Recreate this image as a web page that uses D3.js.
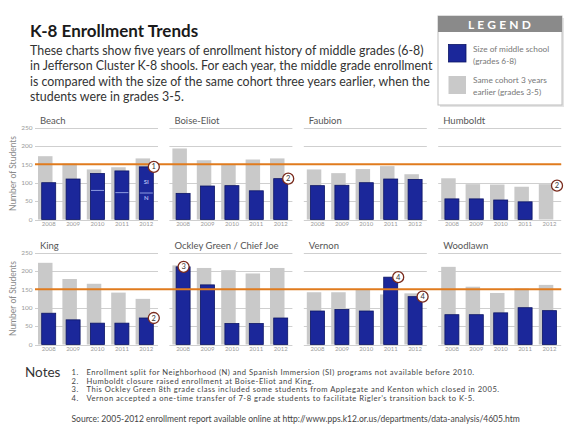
<!DOCTYPE html>
<meta charset="utf-8">
<style>
body { margin: 0; background: #fff; }
text { font-family: Lato, "Open Sans", sans-serif; }
.grid line { stroke: #cfcfcf; stroke-width: 1; }
.year { fill: #9a9a9a; font-size: 6px; }
.tick-label { fill: #9a9a9a; font-size: 6.5px; }
.panel-title { fill: #555; font-size: 9.5px; }
.cohort { fill: #c9c9c9; }
.middle { fill: #1b279a; stroke: #0c1565; stroke-width: 0.8; }
.note { fill: #444; font-size: 7.6px; letter-spacing: 0.5px; }
</style>
<svg width="580" height="435"></svg>
<script src="https://cdn.jsdelivr.net/npm/d3@7"></script>
<script>

var schools = ["Beach", "Boise-Eliot", "Faubion", "Humboldt",
               "King", "Ockley Green / Chief Joe", "Vernon", "Woodlawn"];
var years = ["2008", "2009", "2010", "2011", "2012"];

// middle school size (grades 6-8), one row per school
var middleSize = [
  [100, 110, 125, 132, 143],   // Beach
  [71, 91, 92, 78, 111],       // Boise-Eliot
  [92, 93, 100, 110, 109],     // Faubion
  [56, 56, 53, 48, 0],         // Humboldt
  [85, 67, 58, 58, 72],        // King
  [211, 162, 57, 57, 72],      // Ockley Green
  [91, 95, 91, 183, 130],      // Vernon
  [81, 81, 86, 100, 92]        // Woodlawn
];

// same cohort three years earlier (grades 3-5)
var cohortSize = [
  [172, 152, 136, 142, 166],
  [193, 161, 148, 163, 166],
  [136, 126, 137, 145, 123],
  [112, 96, 95, 89, 96],
  [222, 178, 165, 141, 124],
  [215, 208, 202, 193, 208],
  [142, 142, 148, 136, 139],
  [211, 157, 140, 152, 162]
];

var yTicks = [0, 50, 100, 150, 200, 250];
var targetSize = 150;

// Beach neighborhood / Spanish immersion split
var splitYears = ["2010", "2011", "2012"];
var splitN = [79, 73, 72];

var calloutSchool = ["Beach", "Boise-Eliot", "Humboldt", "King", "Ockley Green / Chief Joe", "Vernon", "Vernon"];
var calloutYear = ["2012", "2012", "2012", "2012", "2008", "2011", "2012"];
var calloutNum = ["1", "2", "2", "2", "3", "4", "4"];

var notes = [
  "Enrollment split for Neighborhood (N) and Spanish Immersion (SI) programs not available before 2010.",
  "Humboldt closure raised enrollment at Boise-Eliot and King.",
  "This Ockley Green 8th grade class included some students from Applegate and Kenton which closed in 2005.",
  "Vernon accepted a one-time transfer of 7-8 grade students to facilitate Rigler\u2019s transition back to K-5."
];

var svg = d3.select("svg");

// ---- header text
svg.append("text")
    .attr("x", 30).attr("y", 37)
    .style("font-size", "17px").style("font-weight", "bold").style("fill", "#1a1a1a")
    .text("K-8 Enrollment Trends");

var intro = [
  "These charts show five years of enrollment history of middle grades (6-8)",
  "in Jefferson Cluster K-8 shools. For each year, the middle grade enrollment",
  "is compared with the size of the same cohort three years earlier, when the",
  "students were in grades 3-5."
];
svg.selectAll(".intro")
  .data(intro)
  .enter().append("text")
    .attr("class", "intro")
    .attr("x", 30)
    .attr("y", function(d, i) { return 55 + i * 15.3; })
    .style("font-size", "12.4px").style("fill", "#333")
    .text(function(d) { return d; });

// ---- legend
var lg = svg.append("g");
lg.append("rect").attr("x", 440).attr("y", 18).attr("width", 124).attr("height", 89).attr("fill", "#e4e4e4");
lg.append("rect").attr("x", 438).attr("y", 16).attr("width", 124).attr("height", 89)
    .attr("fill", "#fff").attr("stroke", "#bdbdbd");
lg.append("rect").attr("x", 438).attr("y", 16).attr("width", 124).attr("height", 16).attr("fill", "#8a8a8a");
lg.append("text").attr("x", 501).attr("y", 29).attr("text-anchor", "middle")
    .style("font-size", "12px").style("font-weight", "bold").style("fill", "#fff")
    .style("letter-spacing", "3.2px")
    .text("LEGEND");
lg.append("rect").attr("class", "middle").attr("x", 448.5).attr("y", 44.5).attr("width", 17.5).attr("height", 17.5);
lg.append("rect").attr("class", "cohort").attr("x", 448.5).attr("y", 76).attr("width", 17.5).attr("height", 18);
[["Size of middle school", "(grades 6-8)", 52], ["Same cohort 3 years", "earlier (grades 3-5)", 83]].forEach(function(l) {
  lg.append("text").attr("x", 473).attr("y", l[2]).style("font-size", "8.3px").style("fill", "#777").text(l[0]);
  lg.append("text").attr("x", 473).attr("y", l[2] + 11.5).style("font-size", "8.3px").style("fill", "#777").text(l[1]);
});

// ---- panels
var panelW = 123, colStep = 134.4, left = 35;
var rowBase = [219.5, 344.5], rowH = 92;

function panelX(i) {
  return d3.scaleBand().domain(years)
      .range([left + (i % 4) * colStep, left + (i % 4) * colStep + panelW - 1]);
}
function panelY(i) {
  var r = Math.floor(i / 4);
  return d3.scaleLinear().domain([0, 250]).range([rowBase[r], rowBase[r] - rowH]);
}

schools.forEach(function(name, i) {
  var x = panelX(i), y = panelY(i), x0 = x.range()[0];
  var g = svg.append("g");
  var rows = years.map(function(yr, j) { return {year: yr, middle: middleSize[i][j], cohort: cohortSize[i][j]}; });

  g.append("g").attr("class", "grid")
    .selectAll("line").data(yTicks).enter().append("line")
      .attr("x1", x0).attr("x2", x0 + panelW)
      .attr("y1", function(d) { return Math.round(y(d)) + 0.5; })
      .attr("y2", function(d) { return Math.round(y(d)) + 0.5; });

  g.append("text").attr("class", "panel-title")
      .attr("x", x0 + 5).attr("y", y(250) - 4).text(name);

  var c = function(d) { return x(d.year) + x.bandwidth() / 2; };

  g.selectAll(".cohort").data(rows).enter().append("rect")
      .attr("class", "cohort")
      .attr("x", function(d) { return c(d) - 9.2; })
      .attr("width", 14.5)
      .attr("y", function(d) { return y(d.cohort); })
      .attr("height", function(d) { return y(0) - y(d.cohort); });

  g.selectAll(".middle").data(rows.filter(function(d) { return d.middle > 0; })).enter().append("rect")
      .attr("class", "middle")
      .attr("x", function(d) { return c(d) - 5.5; })
      .attr("width", 14)
      .attr("y", function(d) { return y(d.middle); })
      .attr("height", function(d) { return y(0) - y(d.middle); });

  g.selectAll(".year").data(rows).enter().append("text")
      .attr("class", "year")
      .attr("x", function(d) { return c(d) + 1.5; })
      .attr("y", y(0) + 6.5)
      .attr("text-anchor", "middle")
      .text(function(d) { return d.year; });

  if (i % 4 === 0) {
    g.selectAll(".tick-label").data(yTicks).enter().append("text")
        .attr("class", "tick-label")
        .attr("x", x0 - 2.5)
        .attr("y", function(d) { return y(d) + 2.2; })
        .attr("text-anchor", "end")
        .text(function(d) { return d; });
    g.append("text")
        .attr("transform", "translate(16," + y(125) + ") rotate(-90)")
        .attr("text-anchor", "middle")
        .style("font-size", "8.5px").style("fill", "#8a8a8a")
        .text("Number of Students");
  }

  if (name === "Beach") {
    splitYears.forEach(function(yr, k) {
      var cx = x(yr) + x.bandwidth() / 2;
      g.append("line")
          .attr("x1", cx - 5).attr("x2", cx + 8)
          .attr("y1", y(splitN[k])).attr("y2", y(splitN[k]))
          .attr("stroke", "#8d9be0").attr("stroke-width", 1);
    });
    var cl = x("2012") + x.bandwidth() / 2 + 1.5;
    g.append("text").attr("x", cl).attr("y", y(splitN[2]) - 9).attr("text-anchor", "middle")
        .style("font-size", "6px").style("font-weight", "bold").style("fill", "#aab4ee").text("SI");
    g.append("text").attr("x", cl).attr("y", y(splitN[2]) + 6.5).attr("text-anchor", "middle")
        .style("font-size", "6px").style("font-weight", "bold").style("fill", "#aab4ee").text("N");
  }
});

// ---- 150 reference line across each row
[0, 4].forEach(function(i) {
  var y = panelY(i);
  svg.append("line")
      .attr("x1", left).attr("x2", left + 3 * colStep + panelW)
      .attr("y1", y(targetSize)).attr("y2", y(targetSize))
      .attr("stroke", "#e07b1e").attr("stroke-width", 2);
});

// ---- callouts
calloutSchool.forEach(function(s, k) {
  var i = schools.indexOf(s), j = years.indexOf(calloutYear[k]);
  var x = panelX(i), y = panelY(i);
  var v = middleSize[i][j] > 0 ? middleSize[i][j] : cohortSize[i][j] - 4;
  var cx = x(calloutYear[k]) + x.bandwidth() / 2 + (s === "Ockley Green / Chief Joe" ? 2 : 9);
  var cy = y(v);
  svg.append("circle").attr("cx", cx).attr("cy", cy).attr("r", 5.5)
      .attr("fill", "#fff").attr("stroke", "#7a2b1d").attr("stroke-width", 1.3);
  svg.append("text").attr("x", cx).attr("y", cy + 2.5).attr("text-anchor", "middle")
      .style("font-size", "7.5px").style("fill", "#333").text(calloutNum[k]);
});

// ---- notes
svg.append("text").attr("x", 25).attr("y", 376.5)
    .style("font-size", "13.5px").style("fill", "#333").text("Notes");
svg.selectAll(".note-num").data(notes).enter().append("text")
    .attr("class", "note")
    .attr("x", 71.5).attr("y", function(d, i) { return 375 + i * 8.5; })
    .text(function(d, i) { return (i + 1) + "."; });
svg.selectAll(".note-text").data(notes).enter().append("text")
    .attr("class", "note")
    .attr("x", 86.5).attr("y", function(d, i) { return 375 + i * 8.5; })
    .text(function(d) { return d; });
svg.append("text").attr("class", "note").attr("x", 71.5).attr("y", 421.5)
    .style("font-size", "8.5px").style("letter-spacing", "0px")
    .text("Source: 2005-2012 enrollment report available online at http://www.pps.k12.or.us/departments/data-analysis/4605.htm");

</script>
